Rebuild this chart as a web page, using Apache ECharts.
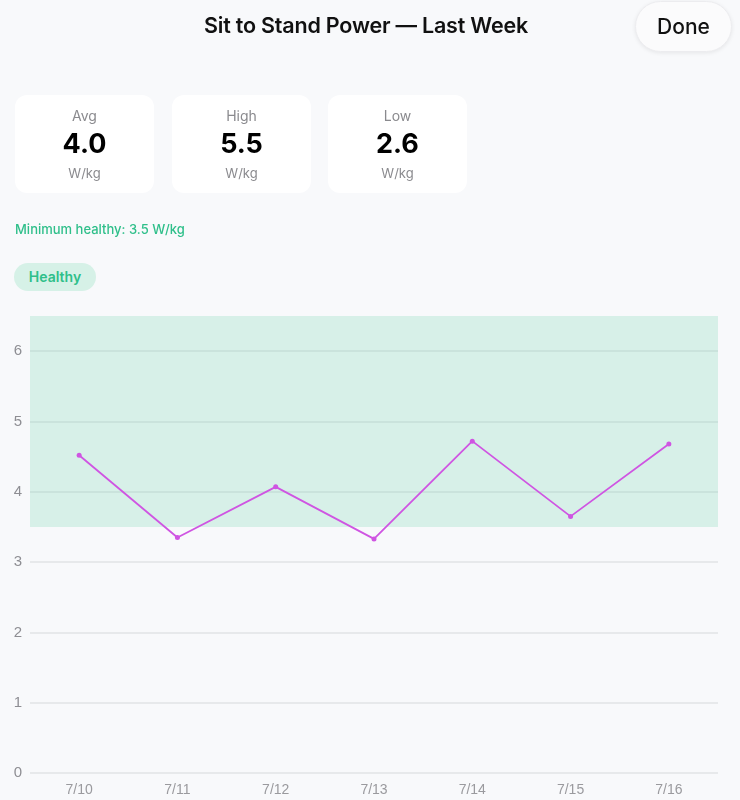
<!DOCTYPE html>
<html>
<head>
<meta charset="utf-8">
<script src="https://cdn.jsdelivr.net/npm/echarts@6/dist/echarts.min.js"></script>
<style>
  html, body { margin: 0; padding: 0; background: #f8f9fb; }
  body { width: 740px; height: 800px; position: relative; overflow: hidden; font-family: Inter, Roboto, "Noto Sans", sans-serif; }
  #chart { position: absolute; left: 0; top: 0; width: 740px; height: 800px; }
  .title { position: absolute; left: 0; width: 732px; top: 12px; text-align: center; font-size: 21.5px; font-weight: 600; color: #111; letter-spacing: -0.2px; }
  .done { position: absolute; left: 635px; top: 1px; width: 97px; height: 51px; border-radius: 26px; background: #fbfbfc; box-shadow: 0 1px 4px rgba(0,0,0,0.08); border: 1px solid #ececef; box-sizing: border-box; text-align: center; line-height: 49px; font-size: 21px; font-weight: 500; color: #111; }
  .card { position: absolute; top: 95px; width: 139px; height: 98px; background: #fff; border-radius: 12px; text-align: center; }
  .card .lbl { position: absolute; top: 12px; width: 100%; font-size: 14px; color: #8a8a8e; }
  .card .val { position: absolute; top: 32px; width: 100%; font-size: 27px; font-weight: 700; color: #000; }
  .card .unit { position: absolute; top: 70px; width: 100%; font-size: 13px; color: #8a8a8e; }
  .minh { position: absolute; left: 15px; top: 221px; font-size: 13px; font-weight: 500; color: #2fbf8a; }
  .pill { position: absolute; left: 14px; top: 263px; width: 82px; height: 28px; border-radius: 14px; background: #d6f1e7; color: #2fbf8a; font-size: 14px; font-weight: 600; line-height: 28px; text-align: center; }
</style>
</head>
<body>
<div id="chart"></div>
<div class="title">Sit to Stand Power — Last Week</div>
<div class="done">Done</div>
<div class="card" style="left:15px"><div class="lbl">Avg</div><div class="val">4.0</div><div class="unit">W/kg</div></div>
<div class="card" style="left:172px"><div class="lbl">High</div><div class="val">5.5</div><div class="unit">W/kg</div></div>
<div class="card" style="left:328px"><div class="lbl">Low</div><div class="val">2.6</div><div class="unit">W/kg</div></div>
<div class="minh">Minimum healthy: 3.5 W/kg</div>
<div class="pill">Healthy</div>
<script>
// data
const dates = ['7/10', '7/11', '7/12', '7/13', '7/14', '7/15', '7/16'];
const power = [4.52, 3.35, 4.07, 3.33, 4.72, 3.65, 4.68];
const healthyMin = 3.5;
const axisMax = 6.5;

const chart = echarts.init(document.getElementById('chart'));

chart.setOption({
  animation: false,
  grid: { left: 30, right: 22, top: 316, bottom: 27 },
  xAxis: {
    type: 'category',
    data: dates,
    axisLine: { show: false },
    axisTick: { show: false },
    axisLabel: { color: '#9a9a9e', fontSize: 14, margin: 10 },
  },
  yAxis: {
    type: 'value',
    min: 0,
    max: axisMax,
    interval: 1,
    axisLine: { show: false },
    axisTick: { show: false },
    axisLabel: { color: '#8e8e93', fontSize: 15, margin: 8, showMaxLabel: false },
    splitLine: { showMaxLine: false, lineStyle: { color: '#e2e3e6', width: 1.5 } },
  },
  series: [
    {
      type: 'line',
      data: power,
      symbol: 'circle',
      symbolSize: 5,
      lineStyle: { color: '#cf55e2', width: 1.8 },
      itemStyle: { color: '#cf55e2' },
      markArea: {
        silent: true,
        itemStyle: { color: 'rgba(52, 194, 140, 0.17)' },
        data: [[{ yAxis: healthyMin }, { yAxis: axisMax }]],
      },
      z: 3,
    },
  ],
});
</script>
</body>
</html>
